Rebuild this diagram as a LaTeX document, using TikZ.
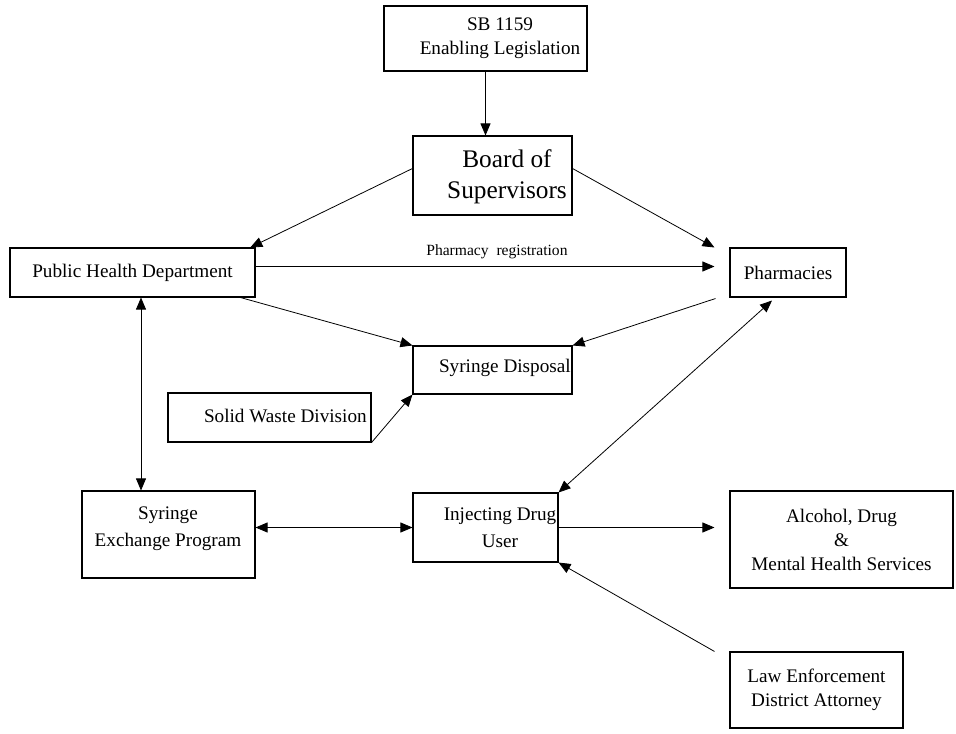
\documentclass[tikz,border=0pt]{standalone}
\usepackage{fontspec}
\setmainfont{Liberation Serif}
\usetikzlibrary{arrows.meta, calc}

\begin{document}
\begin{tikzpicture}[
		x=0.75pt, y=-0.75pt,
		box/.style={draw, line width=0.8pt, rectangle, inner sep=0pt, align=center, font=\fontsize{14.4}{18}\selectfont},
		txt/.style={inner sep=0pt, align=center, font=\fontsize{14.4}{18}\selectfont},
		arrow/.style={-{Triangle[length=9pt, width=7.5pt]}, line width=0.6pt},
		darrow/.style={{Triangle[length=9pt, width=7.5pt]}-{Triangle[length=9pt, width=7.5pt]}, line width=0.6pt}
		]
		\useasboundingbox (0,0) rectangle (956,734);

		% Boxes
		\node[box, minimum width=152.25pt, minimum height=48.75pt] (sb) at (485.5,38.5) {};
		\node[box, minimum width=119.25pt, minimum height=59.25pt] (board) at (492.5,175.5) {};
		\node[box, minimum width=183.75pt, minimum height=36.75pt] (phd) at (132.5,272.5) {Public Health Department};
		\node[box, minimum width=87pt, minimum height=36.75pt] (pharm) at (788,272.5) {Pharmacies};
		\node[box, minimum width=119.25pt, minimum height=36pt] (disp) at (492.5,370) {};
		\node[box, minimum width=152.25pt, minimum height=36.75pt] (waste) at (269.5,417.5) {};
		\node[box, minimum width=129.75pt, minimum height=65.25pt] (sep) at (168.5,534.5) {};
		\node[box, minimum width=108.75pt, minimum height=51.75pt] (idu) at (485.5,527.5) {};
		\node[box, minimum width=167.25pt, minimum height=72.75pt] (admhs) at (841.5,539.5) {Alcohol, Drug\\\&\\Mental Health Services};
		\node[box, minimum width=129.75pt, minimum height=57pt] (leda) at (816.5,690) {Law Enforcement\\District Attorney};

		% Texts
		\node[txt] (sbtext) at (500,38) {SB 1159\\Enabling Legislation};
		\node[txt, font=\fontsize{19}{23}\selectfont] (boardtext) at (507,177) {Board of\\Supervisors};
		\node[txt, anchor=east] (disptext) at (571,368) {Syringe Disposal};
		\node[txt, anchor=east] (wastetext) at (367,416) {Solid Waste Division};
		\node[txt, font=\fontsize{14.4}{20}\selectfont] (septext) at (168,529) {Syringe\\Exchange Program};
		\node[txt, font=\fontsize{14.4}{20}\selectfont] (idutext) at (500,528) {Injecting Drug\\User};

		% Arrows
		\draw[arrow] (sb.south) -- (sb.south |- board.north);
		\draw[arrow] (board.175) -- (phd.12);
		\draw[arrow] (board.5) -- ($(pharm.north west)+(-15,0)$);
		\draw[arrow] ($(phd.east)+(0,-6)$) -- node[pos=0.526, above=2pt, font=\fontsize{11.7}{14}\selectfont] (preg) {Pharmacy\ \ registration} ($(pharm.west)+(-15,-6)$);
		\draw[arrow] ($(phd.south east)+(-15,0)$) -- (disp.north west);
		\draw[arrow] ($(pharm.south west)+(-14,1)$) -- (disp.north east);
		\draw[arrow] (waste.south east) -- (disp.south west);

		\coordinate (sepup) at ($(sep.north)+(-27.5,0)$);
		\draw[darrow] (sepup) -- (sepup |- phd.south);
		\draw[darrow] (idu.west -| sep.east) -- (idu.west);
		\draw[darrow] ($(pharm.south)+(-16,3)$) -- (idu.north east);
		\draw[arrow] (idu.east) -- ($(idu.east -| admhs.west)+(-15,0)$);
		\draw[arrow] ($(leda.north west)+(-15,0)$) -- (idu.south east);

	\end{tikzpicture}
\end{document}
